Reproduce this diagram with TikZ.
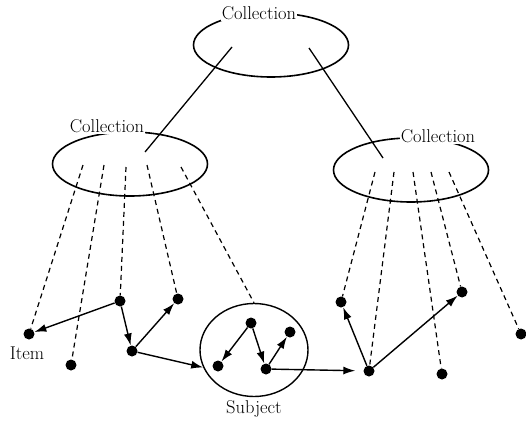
\documentclass[tikz,border=0pt]{standalone}
\usetikzlibrary{shapes.geometric,arrows.meta}
\begin{document}
\begin{tikzpicture}[x=1pt,y=-1pt,
  coll/.style={draw,ellipse,line width=1.6pt,minimum width=155pt,minimum height=64pt,inner sep=0pt},
  dot/.style={circle,fill=black,inner sep=0pt,minimum size=11pt},
  lbl/.style={font=\fontsize{18.5}{21}\selectfont,inner sep=1pt},
  clbl/.style={lbl,fill=white},
  link/.style={line width=1.3pt},
  dashln/.style={line width=1.2pt,dash pattern=on 5pt off 4pt},
  arr/.style={line width=1.4pt,-{Latex[length=12pt,width=8pt]}}
]
\useasboundingbox (0,0) rectangle (526,422);
% collections
\node[coll] (top) at (271,45) {};
\node[coll] (left) at (130,164) {};
\node[coll] (right) at (411,170) {};
\node[draw,ellipse,line width=1.4pt,minimum width=108pt,minimum height=93pt,fill=white] (subj) at (254,350) {};
% labels
\node[clbl] (ltop) at (259,13) {Collection};
\node[clbl] (lleft) at (107,126) {Collection};
\node[clbl] (lright) at (438,136) {Collection};
\node[lbl] (litem) at (27,353) {Item};
\node[lbl] (lsubj) at (254,409) {Subject};
% inner coordinates
\coordinate (t1) at (232,47);
\coordinate (t2) at (309,48);
\coordinate (l0) at (145,152);
\coordinate (r0) at (383,158);
\coordinate (l1) at (83,165);
\coordinate (l2) at (104,165);
\coordinate (l3) at (126,167);
\coordinate (l4) at (147,165);
\coordinate (l5) at (181,167);
\coordinate (r1) at (375,172);
\coordinate (r2) at (394,172);
\coordinate (r3) at (413,172);
\coordinate (r4) at (431,172);
\coordinate (r5) at (449,172);
% dots
\node[dot] (item) at (29,334) {};
\node[dot] (a2) at (71,365) {};
\node[dot] (a3) at (120,301) {};
\node[dot] (a4) at (178,299) {};
\node[dot] (a5) at (132,351) {};
\node[dot] (s1) at (251,323) {};
\node[dot] (s2) at (218,366) {};
\node[dot] (s3) at (290,332) {};
\node[dot] (s4) at (266,369) {};
\node[dot] (b1) at (341,302) {};
\node[dot] (b2) at (369,371) {};
\node[dot] (b3) at (462,292) {};
\node[dot] (b4) at (442,374) {};
\node[dot] (b5) at (521,334) {};
% solid links
\draw[link] (t1) -- (l0);
\draw[link] (t2) -- (r0);
% dashed links
\draw[dashln] (l1) -- (item);
\draw[dashln] (l2) -- (a2);
\draw[dashln] (l3) -- (a3);
\draw[dashln] (l4) -- (a4);
\draw[dashln] (l5) -- (subj.north);
\draw[dashln] (r1) -- (b1);
\draw[dashln] (r2) -- (b2);
\draw[dashln] (r3) -- (b4);
\draw[dashln] (r4) -- (b3);
\draw[dashln] (r5) -- (b5);
% arrows
\draw[arr] (a3) -- (item);
\draw[arr] (a3) -- (a5);
\draw[arr] (a5) -- (a4);
\draw[arr] (a5) -- (subj.199);
\draw[arr] (s1) -- (s2);
\draw[arr] (s1) -- (s4);
\draw[arr] (s4) -- (s3);
\draw[arr,shorten >=8pt] (s4) -- (b2);
\draw[arr] (b2) -- (b1);
\draw[arr] (b2) -- (b3);
\end{tikzpicture}
\end{document}
